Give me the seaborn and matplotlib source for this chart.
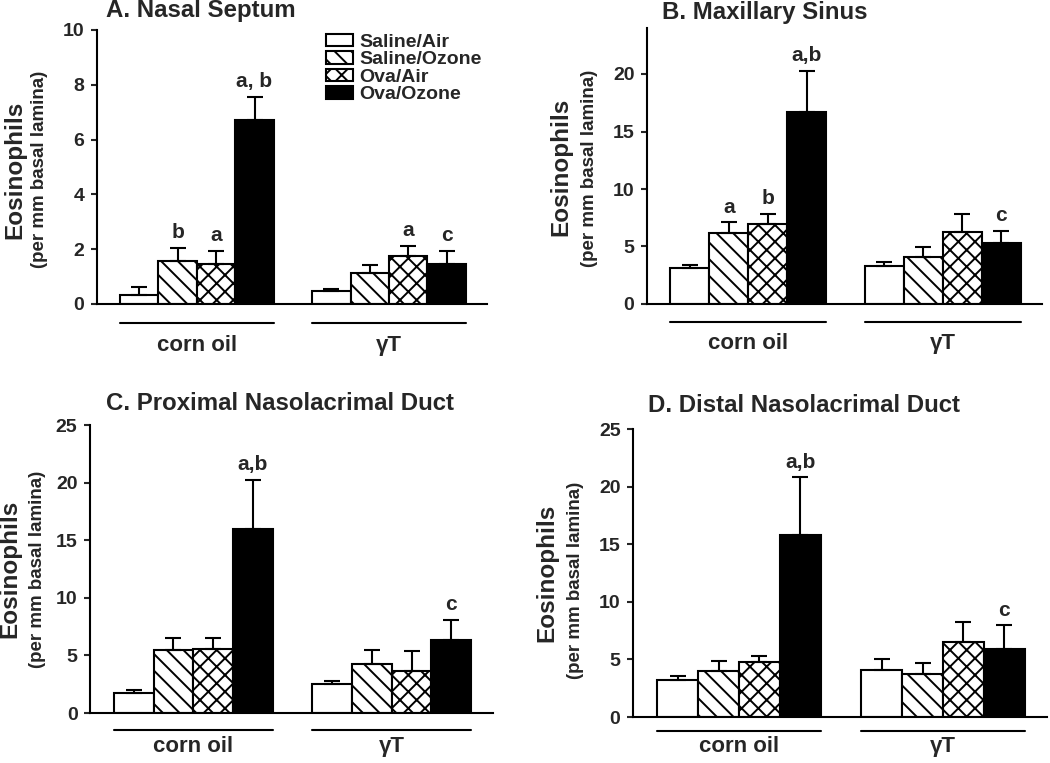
import pandas as pd
import numpy as np
import matplotlib
matplotlib.use("Agg")
import matplotlib.pyplot as plt
import matplotlib.transforms as mtransforms
from matplotlib.patches import Patch
import seaborn as sns

sns.set_style("white")
plt.rcParams['font.family'] = ['Liberation Sans', 'DejaVu Sans']
plt.rcParams['font.weight'] = 'bold'
plt.rcParams['hatch.linewidth'] = 1.4
plt.rcParams['hatch.color'] = 'black'

# datos
vehicles = ["corn oil", "\u03b3T"]
groups = ["Saline/Air", "Saline/Ozone", "Ova/Air", "Ova/Ozone"]

# A. Nasal Septum  (medias y error superior), orden: corn oil x4, gammaT x4
septum_mean = [0.32, 1.57, 1.45, 6.72, 0.48, 1.12, 1.75, 1.47]
septum_err = [0.29, 0.49, 0.50, 0.85, 0.07, 0.29, 0.36, 0.46]
septum_sig = ["", "b", "a", "a, b", "", "", "a", "c"]

# B. Maxillary Sinus
sinus_mean = [3.13, 6.16, 6.98, 16.73, 3.27, 4.08, 6.25, 5.33]
sinus_err = [0.23, 0.93, 0.83, 3.53, 0.38, 0.87, 1.59, 1.04]
sinus_sig = ["", "a", "b", "a,b", "", "", "", "c"]

# C. Proximal Nasolacrimal Duct
prox_mean = [1.73, 5.43, 5.55, 15.98, 2.51, 4.28, 3.67, 6.36]
prox_err = [0.24, 1.07, 0.95, 4.25, 0.29, 1.15, 1.68, 1.73]
prox_sig = ["", "", "", "a,b", "", "", "", "c"]

# D. Distal Nasolacrimal Duct
dist_mean = [3.18, 3.96, 4.75, 15.80, 4.11, 3.76, 6.51, 5.90]
dist_err = [0.35, 0.93, 0.52, 5.00, 0.92, 0.93, 1.71, 2.06]
dist_sig = ["", "", "", "a,b", "", "", "", "c"]

faces = ["white", "white", "white", "black"]
hatches = ["", "\\\\", "xx", ""]

W, H = 1050, 763
fig = plt.figure(figsize=(W / 100, H / 100), dpi=100)


def px_axes(l, t, r, b):
    return fig.add_axes([l / W, 1 - b / H, (r - l) / W, (b - t) / H])


def panel(ax, means, errs, sigs, ymax, ystep, title, tpos, lab1, lab2, line_off, lab_pad):
    df = pd.DataFrame({
        "vehicle": [v for v in vehicles for g in groups],
        "group": [g for v in vehicles for g in groups],
        "value": means,
    })
    sns.barplot(data=df, x="vehicle", y="value", hue="group",
                order=vehicles, hue_order=groups,
                palette=dict(zip(groups, faces)), errorbar=None,
                edgecolor="black", linewidth=1.5, legend=False, ax=ax)
    bar_conts = list(ax.containers)
    for i, cont in enumerate(bar_conts):
        for j, bar in enumerate(cont.patches):
            k = j * len(groups) + i
            bar.set_hatch(hatches[i])
            bar.set_edgecolor("black")
            x = bar.get_x() + bar.get_width() / 2
            h = bar.get_height()
            ax.errorbar(x, h, yerr=[[0], [errs[k]]], fmt="none", ecolor="black",
                        elinewidth=1.5, capsize=5.5, capthick=1.5, zorder=1)
            if sigs[k]:
                ax.annotate(sigs[k], (x, h + errs[k]), xytext=(0, 7),
                            textcoords="offset points", ha="center", va="baseline",
                            fontsize=15, fontweight="bold")
    ax.set_ylim(0, ymax)
    ax.set_xlim(-0.52, 1.51)
    ax.set_yticks(np.arange(0, ymax + 0.01 if ymax % ystep == 0 else ymax, ystep))
    ax.tick_params(axis="y", direction="out", length=4, width=1.5, labelsize=14, pad=5, left=True)
    ax.tick_params(axis="x", length=0, labelsize=16, pad=lab_pad)
    for lbl in ax.get_xticklabels() + ax.get_yticklabels():
        lbl.set_fontweight("bold")
    ax.set_xlabel("")
    ax.set_ylabel("")
    sns.despine(ax=ax)
    for s in ["left", "bottom"]:
        ax.spines[s].set_linewidth(1.5)
        ax.spines[s].set_color("black")
    # lineas de grupo debajo del eje
    trans = mtransforms.blended_transform_factory(ax.transData, ax.transAxes)
    off = mtransforms.ScaledTranslation(0, -line_off / 100, fig.dpi_scale_trans)
    for c in range(len(vehicles)):
        ax.plot([c - 0.4, c + 0.4], [0, 0], color="black", lw=1.5,
                transform=trans + off, clip_on=False)
    fig.text(tpos[0] / W, 1 - tpos[1] / H, title, ha="left", va="center",
             fontsize=17.3, fontweight="bold")
    fig.text(lab1[0] / W, 1 - lab1[1] / H, "Eosinophils", rotation=90,
             ha="center", va="center", fontsize=17.5, fontweight="bold")
    fig.text(lab2[0] / W, 1 - lab2[1] / H, "(per mm basal lamina)", rotation=90,
             ha="center", va="center", fontsize=13.5, fontweight="bold")


axA = px_axes(97, 30, 487, 304)
panel(axA, septum_mean, septum_err, septum_sig, 10, 2, "A. Nasal Septum",
      (106, 11), (15, 170), (40, 169), 19, 22)
axB = px_axes(647, 28, 1042, 304)
panel(axB, sinus_mean, sinus_err, sinus_sig, 24, 5, "B. Maxillary Sinus",
      (662, 12), (561, 167), (590, 168), 18, 21)
axC = px_axes(90, 425, 493, 713)
panel(axC, prox_mean, prox_err, prox_sig, 25, 5, "C. Proximal Nasolacrimal Duct",
      (106, 404), (10, 569), (38, 569), 17, 16.5)
axD = px_axes(633, 429, 1047, 717)
panel(axD, dist_mean, dist_err, dist_sig, 25, 5, "D. Distal Nasolacrimal Duct",
      (648, 405), (547, 573), (575, 580), 14, 14)

handles = [Patch(facecolor=f, edgecolor="black", hatch=h, linewidth=1.5, label=g)
           for f, h, g in zip(faces, hatches, groups)]
leg = fig.legend(handles=handles, loc="upper left",
                 bbox_to_anchor=(326 / W, 1 - 34 / H), frameon=False,
                 prop={"size": 14, "weight": "bold"}, borderpad=0,
                 borderaxespad=0, labelspacing=0.02, handlelength=1.4,
                 handleheight=0.6, handletextpad=0.3)

fig.savefig("out.png", dpi=100)
